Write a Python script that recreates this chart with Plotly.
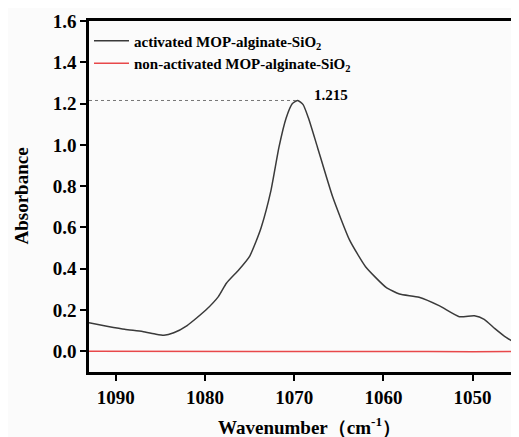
import plotly.graph_objects as go

# Activated MOP-alginate-SiO2 spectrum
wn_act = [1093.0, 1091.0, 1089.0, 1087.0, 1085.5, 1084.6, 1083.5, 1082.0, 1079.9, 1078.5,
          1077.6, 1076.2, 1075.0, 1074.3, 1073.7, 1072.6, 1071.7, 1070.9, 1070.2, 1069.6,
          1069.0, 1068.4, 1067.4, 1065.7, 1063.8, 1062.0, 1059.7, 1058.2, 1056.0,
          1053.7, 1051.5, 1049.8, 1048.7, 1047.5, 1046.2, 1044.8]
abs_act = [0.138, 0.122, 0.107, 0.096, 0.083, 0.078, 0.090, 0.125, 0.20, 0.265,
           0.33, 0.395, 0.46, 0.53, 0.60, 0.78, 0.99, 1.13, 1.20, 1.215,
           1.195, 1.13, 0.99, 0.75, 0.54, 0.41, 0.31, 0.278, 0.262,
           0.22, 0.168, 0.172, 0.155, 0.11, 0.066, 0.03]

# Non-activated spectrum
wn_non = [1093.0, 1080.0, 1070.0, 1060.0, 1055.0, 1050.0, 1047.0, 1044.8]
abs_non = [0.0, 0.0, 0.002, 0.001, -0.001, -0.002, -0.002, 0.0]

peak_x = 1069.6
peak_y = 1.215
peak_label = "1.215"

x_ticks = [1090, 1080, 1070, 1060, 1050]
y_ticks = [0.0, 0.2, 0.4, 0.6, 0.8, 1.0, 1.2, 1.4, 1.6]

FONT = "Liberation Serif, Times New Roman, serif"
BG = "#fbfbfb"

fig = go.Figure()
fig.add_trace(go.Scatter(x=wn_act, y=abs_act, mode="lines",
                         line=dict(color="#3a3a3a", width=1.5, shape="spline", smoothing=0.5),
                         name="activated MOP-alginate-SiO<sub>2</sub>"))
fig.add_trace(go.Scatter(x=wn_non, y=abs_non, mode="lines", line=dict(color="#e8484a", width=1.5),
                         name="non-activated MOP-alginate-SiO<sub>2</sub>"))

fig.add_shape(type="line", xref="x", yref="y", x0=1093, x1=peak_x, y0=peak_y, y1=peak_y,
              line=dict(color="#777777", width=1, dash="dot"))
fig.add_annotation(x=peak_x, y=peak_y, text="<b>" + peak_label + "</b>", showarrow=False,
                   xanchor="left", yanchor="middle", xshift=14, yshift=5,
                   font=dict(family=FONT, size=15, color="black"))

# Axis titles
fig.add_annotation(xref="paper", yref="paper", x=0.5, y=0, yanchor="middle", xanchor="center",
                   yshift=-54, xshift=5, showarrow=False,
                   text="<b>Wavenumber（cm<sup>-1</sup>）</b>",
                   font=dict(family=FONT, size=19, color="black"))
fig.add_annotation(xref="paper", yref="paper", x=0, y=0.5, xanchor="center", yanchor="middle",
                   xshift=-68, showarrow=False, textangle=-90,
                   text="<b>Absorbance</b>",
                   font=dict(family=FONT, size=19, color="black"))

# The page body adds an 8px offset, so the figure is sized to end at the window edge
fig.update_layout(
    width=511, height=429,
    margin=dict(l=81, r=0, t=13, b=65),
    paper_bgcolor=BG, plot_bgcolor=BG,
    font=dict(family=FONT, color="black"),
    showlegend=True,
    legend=dict(x=0.0, y=0.99, xanchor="left", yanchor="top", bgcolor="rgba(0,0,0,0)",
                font=dict(family=FONT, size=15, color="black", weight="bold"),
                tracegroupgap=0, itemwidth=35),
    xaxis=dict(range=[1093, 1044.8], tickvals=x_ticks, ticktext=["<b>%d</b>" % v for v in x_ticks],
               showline=True, linecolor="black", linewidth=2.5, mirror=True,
               ticks="outside", ticklen=6, tickwidth=2, tickcolor="black",
               showgrid=False, zeroline=False, automargin=False,
               tickfont=dict(family=FONT, size=19, color="black")),
    yaxis=dict(range=[-0.1, 1.6], tickvals=y_ticks, ticktext=["<b>%.1f</b>" % v for v in y_ticks],
               showline=True, linecolor="black", linewidth=2.5, mirror=False,
               ticks="outside", ticklen=6, tickwidth=2, tickcolor="black",
               showgrid=False, zeroline=False, automargin=False,
               tickfont=dict(family=FONT, size=19, color="black")),
)

fig.write_html("out.html")
